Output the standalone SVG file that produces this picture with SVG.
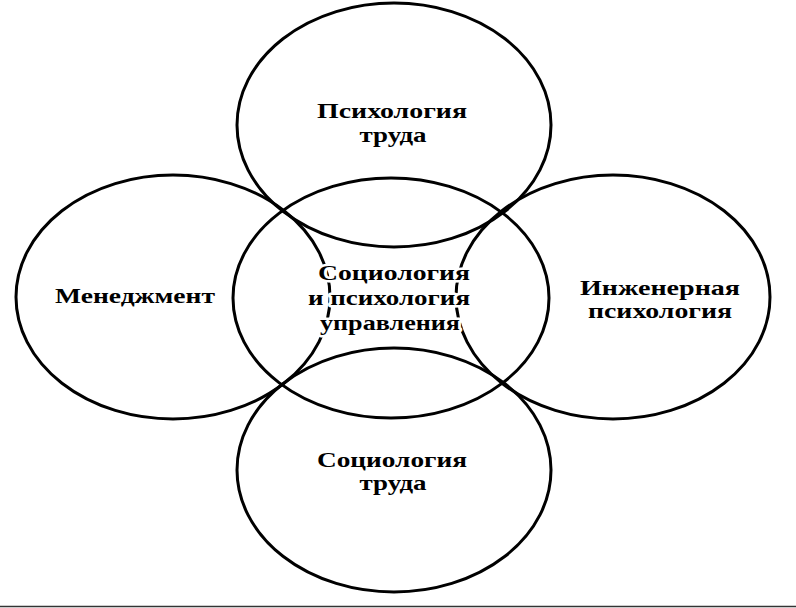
<svg xmlns="http://www.w3.org/2000/svg" width="796" height="608" viewBox="0 0 796 608">
<style>
.e{fill:none;stroke:#000;stroke-width:3}
.t{font-family:"Liberation Serif","DejaVu Serif",serif;font-size:22px;font-weight:bold;fill:#000;text-anchor:middle}
.h{stroke:#fff;stroke-width:5;paint-order:stroke;stroke-linejoin:round}
</style>
<rect width="796" height="608" fill="#fff"/>
<g id="connectors"></g>
<g id="top"><ellipse class="e" cx="394" cy="125" rx="157" ry="122"/></g>
<g id="left"><ellipse class="e" cx="173" cy="297" rx="157" ry="122"/></g>
<g id="right"><ellipse class="e" cx="613" cy="297" rx="157" ry="122"/></g>
<g id="bottom"><ellipse class="e" cx="394" cy="470" rx="157" ry="122"/></g>
<g id="center"><ellipse class="e" cx="391" cy="298" rx="158" ry="120"/></g>
<g id="labels">
<text class="t" x="392" y="118" textLength="150" lengthAdjust="spacingAndGlyphs">Психология</text>
<text class="t" x="393" y="142" textLength="67" lengthAdjust="spacingAndGlyphs">труда</text>
<text class="t" x="135" y="303" textLength="160" lengthAdjust="spacingAndGlyphs">Менеджмент</text>
<text class="t" x="660" y="295" textLength="160" lengthAdjust="spacingAndGlyphs">Инженерная</text>
<text class="t" x="660" y="318" textLength="144" lengthAdjust="spacingAndGlyphs">психология</text>
<text class="t h" x="394" y="280" textLength="152" lengthAdjust="spacingAndGlyphs">Социология</text>
<text class="t h" x="389" y="305" textLength="162" lengthAdjust="spacingAndGlyphs">и психология</text>
<text class="t h" x="390" y="330" textLength="140" lengthAdjust="spacingAndGlyphs">управления</text>
<text class="t" x="392" y="467" textLength="150" lengthAdjust="spacingAndGlyphs">Социология</text>
<text class="t" x="393" y="490" textLength="67" lengthAdjust="spacingAndGlyphs">труда</text>
</g>
<line x1="0" y1="606.5" x2="796" y2="606.5" stroke="#333" stroke-width="1.5"/>
</svg>
